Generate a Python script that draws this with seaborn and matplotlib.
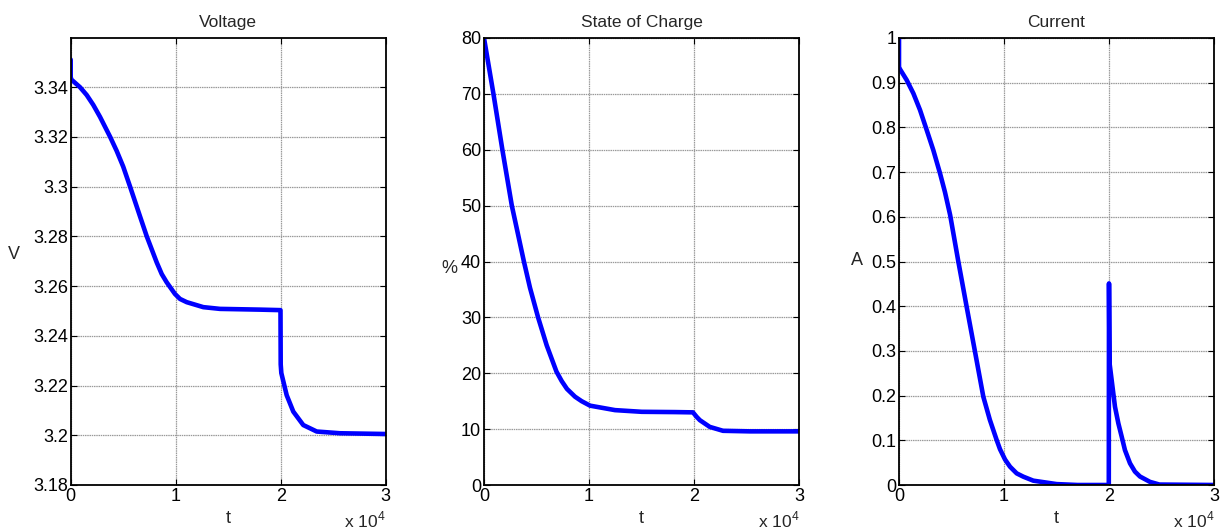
import matplotlib
matplotlib.use("Agg")
import matplotlib.pyplot as plt
import seaborn as sns
import pandas as pd

# ---- data ----
t_volt = [0, 0, 60, 890, 1520, 2150, 2790, 3750, 4380, 5000, 5650, 6600, 7240, 8190, 8670,
          9140, 9930, 10410, 11050, 12630, 14220, 18030, 19980, 20000, 20060, 20570, 21200,
          22150, 23430, 25650, 30000]
voltage = [3.351, 3.344, 3.343, 3.3399, 3.3368, 3.3328, 3.328, 3.320, 3.3143, 3.308, 3.300,
           3.288, 3.280, 3.2695, 3.2648, 3.2615, 3.2568, 3.2548, 3.2535, 3.2515, 3.2508,
           3.2505, 3.2503, 3.2285, 3.2250, 3.2161, 3.2095, 3.2041, 3.2015, 3.2008, 3.2005]

t_soc = [0, 900, 1750, 2650, 3800, 4380, 5150, 5970, 6900, 7400, 7900, 8670, 9300, 10100,
         12480, 15020, 18190, 19900, 20250, 20560, 21500, 22760, 25330, 30000]
soc = [80, 70, 60, 50, 40, 35.3, 30, 25.0, 20.3, 18.6, 17.2, 15.8, 15.0, 14.2,
       13.4, 13.1, 13.05, 13.0, 12.2, 11.6, 10.4, 9.7, 9.6, 9.6]

t_cur = [0, 0, 100, 730, 1370, 2000, 2640, 3270, 3910, 4380, 4870, 5650, 6440, 7240, 8030,
         8650, 9300, 9620, 10100, 10570, 11210, 11840, 12790, 15020, 17000, 19980, 20000,
         20050, 20570, 20890, 21210, 21520, 22000, 22470, 22950, 23900, 24800, 30000]
current = [1.0, 0.935, 0.93, 0.906, 0.876, 0.839, 0.794, 0.749, 0.697, 0.655, 0.604, 0.500,
           0.399, 0.298, 0.1975, 0.146, 0.1007, 0.080, 0.057, 0.041, 0.026, 0.0186, 0.0097,
           0.002, 0.0, 0.0, 0.451, 0.273, 0.175, 0.138, 0.108, 0.078, 0.0485, 0.030, 0.019,
           0.007, 0.001, 0.0]

titles = ["Voltage", "State of Charge", "Current"]
ylabels = ["V", "%", "A"]
xticks = [0, 10000, 20000, 30000]
xticklabels = ["0", "1", "2", "3"]
yticks_v = [3.18, 3.2, 3.22, 3.24, 3.26, 3.28, 3.3, 3.32, 3.34]
yticklabels_v = ["3.18", "3.2", "3.22", "3.24", "3.26", "3.28", "3.3", "3.32", "3.34"]
yticks_s = [0, 10, 20, 30, 40, 50, 60, 70, 80]
yticks_c = [0, 0.1, 0.2, 0.3, 0.4, 0.5, 0.6, 0.7, 0.8, 0.9, 1]
yticklabels_c = ["0", "0.1", "0.2", "0.3", "0.4", "0.5", "0.6", "0.7", "0.8", "0.9", "1"]

sns.set_style("white")
plt.rcParams['font.family'] = ['Liberation Sans', 'DejaVu Sans']
plt.rcParams['mathtext.fontset'] = 'custom'
plt.rcParams['mathtext.rm'] = 'Liberation Sans'

fig = plt.figure(figsize=(12.25, 5.31), dpi=100)
W, H = 1225, 531
lefts = [70.7, 484, 899]
aw, ah = 315, 447
bottom = 531 - 485
ylabel_pos = [(-0.18, 0.515), (-0.11, 0.485), (-0.133, 0.503)]

series = [
    (t_volt, voltage, (3.18, 3.3597), yticks_v, yticklabels_v),
    (t_soc, soc, (0, 80), yticks_s, [str(v) for v in yticks_s]),
    (t_cur, current, (0, 1), yticks_c, yticklabels_c),
]

for i, (tx, yv, ylim, yt, ytl) in enumerate(series):
    ax = fig.add_axes([lefts[i] / W, bottom / H, aw / W, ah / H])
    df = pd.DataFrame({"t": tx, "y": yv})
    sns.lineplot(data=df, x="t", y="y", ax=ax, color="#0000ff", linewidth=3.3,
                 sort=False, estimator=None)
    ax.set_xlim(0, 30000)
    ax.set_ylim(*ylim)
    ax.set_xticks(xticks)
    ax.set_xticklabels(xticklabels)
    ax.set_yticks(yt)
    ax.set_yticklabels(ytl)
    ax.grid(True, color="#9a9a9a", linewidth=0.9, linestyle=(0, (1.2, 0.6)))
    ax.set_axisbelow(True)
    for sp in ax.spines.values():
        sp.set_color("black")
        sp.set_linewidth(1.3)
        sp.set_visible(True)
    ax.tick_params(direction="in", length=4, width=0.8, top=True, right=True,
                   bottom=True, left=True, labelsize=13, pad=2, colors="black")
    ax.set_title(titles[i], fontsize=12.5, pad=8)
    ax.set_xlabel("t", fontsize=13, labelpad=4)
    ax.set_ylabel(ylabels[i], fontsize=13, rotation=0, ha="center", va="center")
    ax.yaxis.set_label_coords(*ylabel_pos[i])
    ax.text(1.0, -0.094, r"x 10$^{4}$", transform=ax.transAxes, ha="right",
            va="baseline", fontsize=12.5)

fig.savefig("out.png", dpi=100, facecolor="white")
